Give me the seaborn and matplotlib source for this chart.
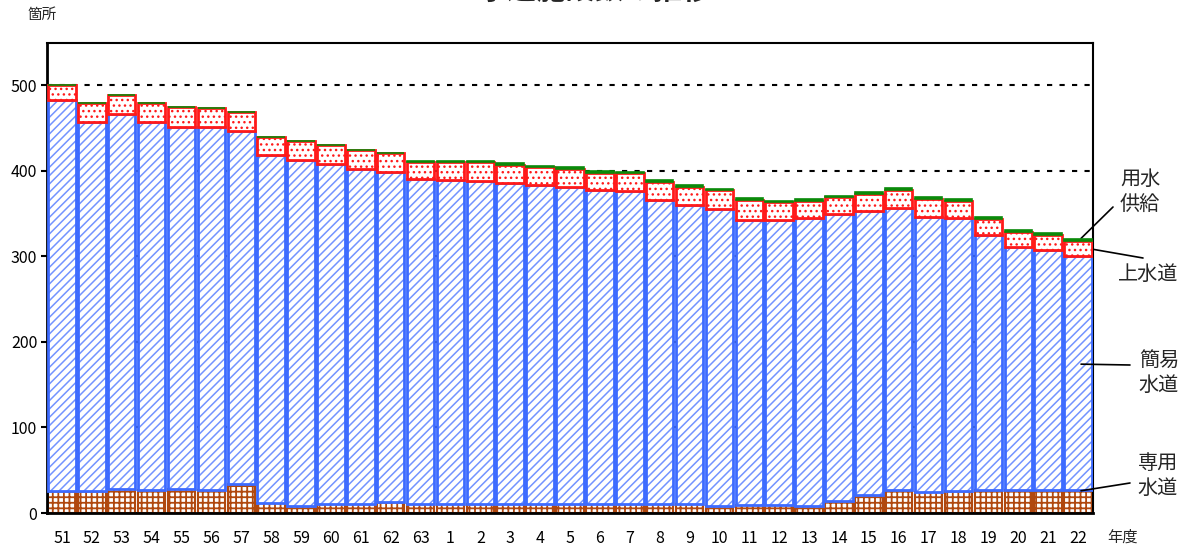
import numpy as np
import pandas as pd
import matplotlib
matplotlib.use("Agg")
import matplotlib.pyplot as plt
import seaborn as sns

# ---------------- data ----------------
years = ["51", "52", "53", "54", "55", "56", "57", "58", "59", "60", "61", "62", "63",
         "1", "2", "3", "4", "5", "6", "7", "8", "9", "10", "11", "12", "13", "14",
         "15", "16", "17", "18", "19", "20", "21", "22"]
senyo = [26, 26, 28, 27, 28, 27, 34, 12, 8, 11, 10, 13, 11,
         11, 11, 11, 11, 11, 11, 11, 10, 10, 8, 9, 9, 8, 14,
         21, 27, 25, 26, 27, 27, 27, 27]
kani = [457, 431, 439, 430, 423, 424, 412, 406, 405, 397, 392, 386, 379,
        378, 377, 375, 372, 370, 366, 365, 356, 350, 347, 334, 333, 337, 335,
        332, 330, 321, 319, 298, 284, 280, 273]
josui = [17, 22, 22, 22, 24, 23, 23, 22, 22, 22, 22, 22, 20,
         21, 22, 21, 21, 21, 21, 21, 21, 21, 22, 23, 21, 20, 20,
         20, 21, 21, 20, 19, 18, 18, 18]
yosui = [0, 0, 0, 0, 0, 0, 0, 0, 0, 0, 0, 0, 2,
         2, 2, 2, 2, 2, 2, 2, 2, 2, 2, 2, 2, 2, 2,
         2, 2, 2, 2, 2, 2, 2, 2]
yticks = [0, 100, 200, 300, 400, 500]

# ---------------- style ----------------
sns.set_theme(style="white")
plt.rcParams['font.family'] = ['Noto Sans CJK JP', 'DejaVu Sans']
plt.rcParams['hatch.linewidth'] = 1.0

BROWN = "#b0480f"
BLUE_EDGE = "#3d6bff"
BLUE_HATCH = "#7393ff"
RED = "#ff1a1a"
GREEN = "#0a8a0a"

W, H = 1190, 549
fig = plt.figure(figsize=(W / 100, H / 100), dpi=100)
ax = fig.add_axes([47 / W, 1 - 513 / H, (1093 - 47) / W, (513 - 42.5) / H])

df = pd.DataFrame({"year": years, "senyo": senyo, "kani": kani,
                   "josui": josui, "yosui": yosui})
b_kani = np.array(senyo)
b_josui = b_kani + np.array(kani)
b_yosui = b_josui + np.array(josui)

common = dict(data=df, x="year", order=years, ax=ax, width=0.92,
              errorbar=None, saturation=1, color="white")

# 専用水道
with plt.rc_context({'hatch.linewidth': 1.3}):
    sns.barplot(y="senyo", facecolor="white", edgecolor=BROWN, linewidth=1.5,
                hatch="+++", zorder=2, **common)
# 簡易水道 (hatch then outline)
with plt.rc_context({'hatch.linewidth': 1.1}):
    sns.barplot(y="kani", bottom=b_kani, facecolor="white", edgecolor=BLUE_HATCH,
                linewidth=0, hatch="////", zorder=2, **common)
sns.barplot(y="kani", bottom=b_kani, facecolor="none", edgecolor=BLUE_EDGE,
            linewidth=2, zorder=3, **common)
# 上水道
sns.barplot(y="josui", bottom=b_josui, facecolor="white", edgecolor=RED,
            linewidth=2, hatch="...", zorder=4, **common)
# 用水供給
sns.barplot(y="yosui", bottom=b_yosui, facecolor=GREEN, edgecolor=GREEN,
            linewidth=1.2, zorder=5, **common)

ax.set_xlim(-0.5, len(years) - 0.5)
ax.set_ylim(0, 550)
ax.set_yticks(yticks)
ax.set_xlabel("")
ax.set_ylabel("")
ax.set_axisbelow(True)
ax.yaxis.grid(True, color="black", linestyle=(0, (2.5, 3.5)), linewidth=1.5)
ax.xaxis.grid(False)

for s in ["left", "bottom"]:
    ax.spines[s].set_linewidth(2)
for s in ["top", "right"]:
    ax.spines[s].set_linewidth(1.5)
for s in ax.spines.values():
    s.set_color("black")

ax.tick_params(axis="y", left=True, length=4, width=1.5, direction="out",
               labelsize=11.5, pad=3, colors="black")
ax.tick_params(axis="x", bottom=False, length=0, labelsize=11.5, pad=12,
               colors="black")

# texts
fig.text(0.5, 1 + 10 / H, "水道施設数の推移", ha="center", va="center",
         fontsize=21, fontweight="bold")
fig.text(42 / W, 1 - 15 / H, "箇所", ha="center", va="center", fontsize=10.5)
fig.text(1122 / W, 1 - 537 / H, "年度", ha="center", va="center", fontsize=11)

labels = [("用水\n供給", 1140, 192), ("上水道", 1148, 274),
          ("簡易\n水道", 1159, 373), ("専用\n水道", 1158, 476)]
for txt, x, y in labels:
    fig.text(x / W, 1 - y / H, txt, ha="center", va="center", fontsize=14.5,
             linespacing=1.25)

lines = [((34.1, 321), (1113, 207)), ((34.05, 311), (1143, 258)),
         ((34.1, 174), (1130, 365)), ((34.1, 26), (1130, 483))]
for xy, (px, py) in lines:
    ax.annotate("", xy=xy, xycoords="data", xytext=(px, H - py),
                textcoords="figure pixels", annotation_clip=False,
                arrowprops=dict(arrowstyle="-", color="black", lw=1.2,
                                shrinkA=0, shrinkB=0))

fig.savefig("out.png", dpi=100)
